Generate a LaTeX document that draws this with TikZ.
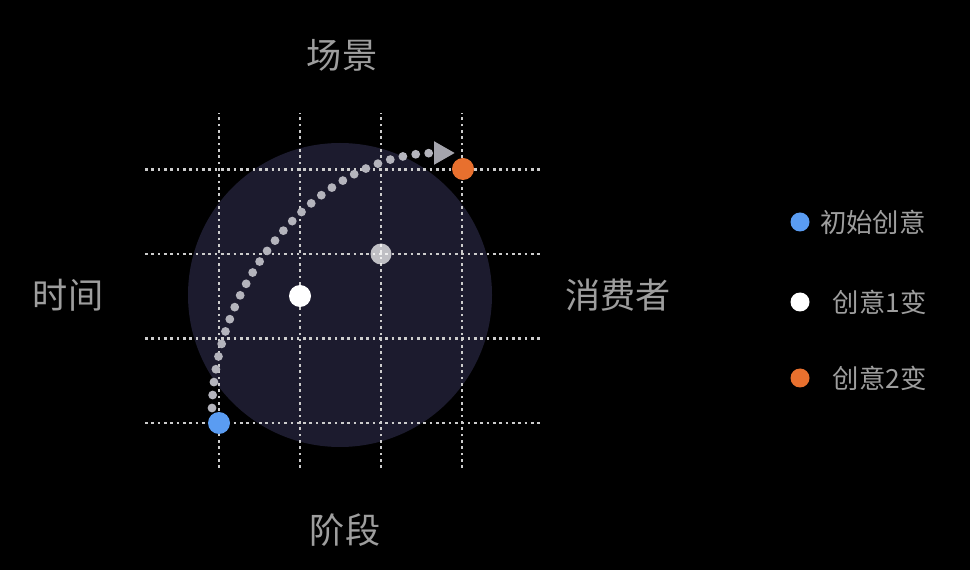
\documentclass[tikz,border=0pt]{standalone}
\usepackage{fontspec}
\setmainfont{Noto Sans CJK SC}
\usetikzlibrary{arrows.meta,positioning}
\definecolor{bgnavy}{HTML}{1C1B2E}
\definecolor{labelgray}{HTML}{9E9E9E}
\definecolor{gridgray}{HTML}{CCCCCC}
\definecolor{dotblue}{HTML}{5A9CF2}
\definecolor{dotorange}{HTML}{E8702E}
\definecolor{pathgray}{HTML}{B4B4BC}
\definecolor{arrowgray}{HTML}{A4A4AC}

\begin{document}
\begin{tikzpicture}[
  gridline/.style={gridgray,line width=1.5pt,dash pattern=on 1.5pt off 2.1pt},
  idea/.style={circle,inner sep=0pt,minimum size=0.44cm},
  key/.style={circle,inner sep=0pt,minimum size=0.38cm},
  axis/.style={text=labelgray,font=\fontsize{20}{24}\selectfont},
  keytext/.style={text=labelgray,font=\fontsize{15}{18}\selectfont,inner sep=0pt}]
\fill[black] (0,0) rectangle (19.4,11.4);
\fill[bgnavy] (6.80,5.50) circle (3.04cm);

\foreach \x in {4.38,6.00,7.62,9.24}
  \draw[gridline] (\x,2.04) -- (\x,9.14);
\foreach \y in {2.94,4.63,6.32,8.01}
  \draw[gridline] (2.90,\y) -- (10.86,\y);

\node[idea,fill=dotblue] (first) at (4.38,2.94) {};
\node[idea,fill=white] (one) at (6.00,5.48) {};
\node[idea,fill=white,opacity=0.72,minimum size=0.42cm] (shift) at (7.62,6.32) {};
\node[idea,fill=dotorange] (two) at (9.26,8.02) {};

\coordinate (from) at (4.24,3.24);
\coordinate (to) at (9.10,8.34);
\draw[pathgray,line width=5pt,line cap=round,dash pattern=on 0pt off 7.4pt,
  -{Triangle[length=0.42cm,width=0.44cm,color=arrowgray]}]
  (from) .. controls (4.30,5.9) and (6.5,8.34) .. (to);

\node[axis] (scene) at (6.84,10.30) {场景};
\node[axis] (time) at (1.36,5.50) {时间};
\node[axis] (consumer) at (12.36,5.50) {消费者};
\node[axis] (stage) at (6.90,0.80) {阶段};

\node[key,fill=dotblue] (keyfirst) at (16.00,6.96) {};
\node[keytext,right=0.2cm of keyfirst] (keyfirsttext) {初始创意};
\node[key,fill=white] (keyone) at (16.00,5.36) {};
\node[keytext,right=0.45cm of keyone] (keyonetext) {创意1变};
\node[key,fill=dotorange] (keytwo) at (16.00,3.84) {};
\node[keytext,right=0.45cm of keytwo] (keytwotext) {创意2变};
\end{tikzpicture}
\end{document}
